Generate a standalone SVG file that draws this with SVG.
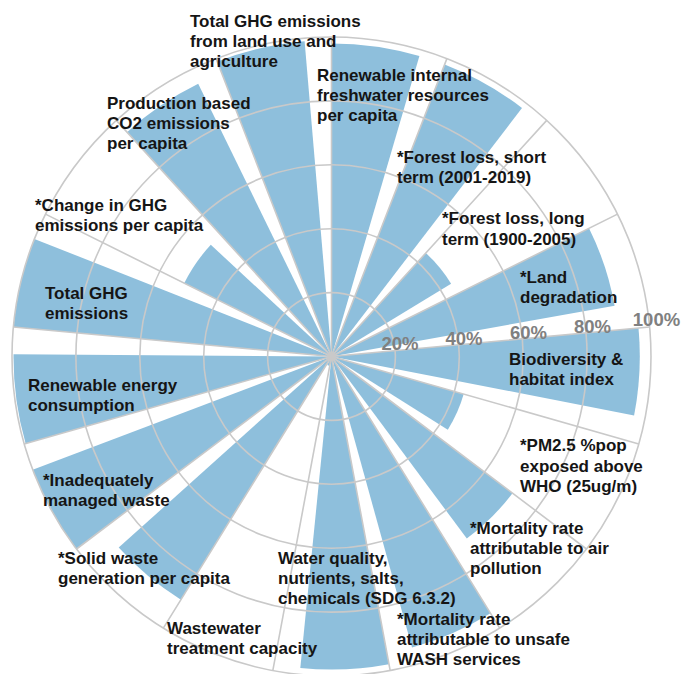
<svg xmlns="http://www.w3.org/2000/svg" width="681" height="674" viewBox="0 0 681 674">
<style>
.bar{fill:#8ebfdc;stroke:none}
.grid{fill:none;stroke:#c9c9c9;stroke-width:1.6}
.lbl{font-family:"Liberation Sans",Arial,sans-serif;font-weight:bold;font-size:17px;fill:#151515}
.pct{font-family:"Liberation Sans",Arial,sans-serif;font-weight:bold;font-size:18.5px;fill:#808080;text-anchor:middle}
</style>
<rect width="681" height="674" fill="#ffffff"/>
<g id="bars">
<path id="bar-freshwater" class="bar" d="M331.5,356.5 L331.5,43.4 A313.1,313.1 0 0 1 419.4,56.0 Z"/>
<path id="bar-forest-short" class="bar" d="M331.5,356.5 L444.6,64.5 A313.1,313.1 0 0 1 522.0,108.0 Z"/>
<path id="bar-forest-long" class="bar" d="M331.5,356.5 L425.8,253.0 A140,140 0 0 1 451.1,283.7 Z"/>
<path id="bar-land-degradation" class="bar" d="M331.5,356.5 L589.0,228.3 A287.6,287.6 0 0 1 614.6,305.7 Z"/>
<path id="bar-biodiversity" class="bar" d="M331.5,356.5 L638.5,328.0 A308.3,308.3 0 0 1 634.1,415.4 Z"/>
<path id="bar-pm25" class="bar" d="M331.5,356.5 L463.7,394.1 A137.4,137.4 0 0 1 447.8,429.7 Z"/>
<path id="bar-mortality-air" class="bar" d="M331.5,356.5 L512.5,493.2 A226.8,226.8 0 0 1 466.8,538.5 Z"/>
<path id="bar-mortality-wash" class="bar" d="M331.5,356.5 L490.5,613.3 A302,302 0 0 1 412.0,647.6 Z"/>
<path id="bar-water-quality" class="bar" d="M331.5,356.5 L389.0,664.3 A313.1,313.1 0 0 1 300.3,668.0 Z"/>
<path id="bar-wastewater" class="bar" d="M331.5,356.5 L329.7,365.9 A9.6,9.6 0 0 1 327.2,365.1 Z"/>
<path id="bar-solid-waste" class="bar" d="M331.5,356.5 L180.9,599.7 A286,286 0 0 1 118.7,547.6 Z"/>
<path id="bar-inadequate-waste" class="bar" d="M331.5,356.5 L76.5,549.0 A319.5,319.5 0 0 1 32.7,469.8 Z"/>
<path id="bar-renewable-energy" class="bar" d="M331.5,356.5 L25.6,443.5 A318,318 0 0 1 13.5,354.2 Z"/>
<path id="bar-total-ghg" class="bar" d="M331.5,356.5 L13.4,327.0 A319.5,319.5 0 0 1 34.4,238.9 Z"/>
<path id="bar-change-ghg" class="bar" d="M331.5,356.5 L184.2,283.2 A164.5,164.5 0 0 1 210.8,244.8 Z"/>
<path id="bar-production-co2" class="bar" d="M331.5,356.5 L127.0,132.2 A303.5,303.5 0 0 1 198.2,83.8 Z"/>
<path id="bar-ghg-land-use" class="bar" d="M331.5,356.5 L217.3,61.5 A316.3,316.3 0 0 1 304.6,41.3 Z"/>
</g>
<g id="grid">
<circle class="grid" cx="331.5" cy="356.5" r="63.9"/>
<circle class="grid" cx="331.5" cy="356.5" r="127.8"/>
<circle class="grid" cx="331.5" cy="356.5" r="191.7"/>
<circle class="grid" cx="331.5" cy="356.5" r="255.6"/>
<circle class="grid" cx="331.5" cy="356.5" r="319.5"/>
<path class="grid" d="M331.5,356.5 L331.5,37.0 M331.5,356.5 L446.9,58.6 M331.5,356.5 L546.7,120.4 M331.5,356.5 L617.5,214.1 M331.5,356.5 L649.6,327.0 M331.5,356.5 L638.8,443.9 M331.5,356.5 L586.5,549.0 M331.5,356.5 L499.7,628.1 M331.5,356.5 L390.2,670.6 M331.5,356.5 L272.8,670.6 M331.5,356.5 L163.3,628.1 M331.5,356.5 L76.5,549.0 M331.5,356.5 L24.2,443.9 M331.5,356.5 L13.4,327.0 M331.5,356.5 L45.5,214.1 M331.5,356.5 L116.3,120.4 M331.5,356.5 L216.1,58.6"/>
<circle cx="331.5" cy="356.5" r="4" fill="#c9c9c9"/>
</g>
<g id="axis-labels">
<text class="pct" x="400" y="350">20%</text>
<text class="pct" x="464" y="345">40%</text>
<text class="pct" x="528.5" y="338.5">60%</text>
<text class="pct" x="592.5" y="332.5">80%</text>
<text class="pct" x="656.5" y="326">100%</text>
</g>
<g id="labels">
<text id="lbl-ghg-land-use" class="lbl" x="190" y="27"><tspan x="190">Total GHG emissions</tspan><tspan x="190" dy="20">from land use and</tspan><tspan x="190" dy="20">agriculture</tspan></text>
<text id="lbl-freshwater" class="lbl" x="317" y="81"><tspan x="317">Renewable internal</tspan><tspan x="317" dy="20">freshwater resources</tspan><tspan x="317" dy="20">per capita</tspan></text>
<text id="lbl-forest-short" class="lbl" x="397" y="163"><tspan x="397">*Forest loss, short</tspan><tspan x="397" dy="20">term (2001-2019)</tspan></text>
<text id="lbl-forest-long" class="lbl" x="442" y="224"><tspan x="442">*Forest loss, long</tspan><tspan x="442" dy="20.5">term (1900-2005)</tspan></text>
<text id="lbl-land-degradation" class="lbl" x="520" y="283"><tspan x="520">*Land</tspan><tspan x="520" dy="19.5">degradation</tspan></text>
<text id="lbl-biodiversity" class="lbl" x="509" y="365"><tspan x="509">Biodiversity &amp;</tspan><tspan x="509" dy="20">habitat index</tspan></text>
<text id="lbl-pm25" class="lbl" x="520" y="451"><tspan x="520">*PM2.5 %pop</tspan><tspan x="520" dy="20.5">exposed above</tspan><tspan x="520" dy="20.5">WHO (25ug/m)</tspan></text>
<text id="lbl-mortality-air" class="lbl" x="470" y="534"><tspan x="470">*Mortality rate</tspan><tspan x="470" dy="20">attributable to air</tspan><tspan x="470" dy="20">pollution</tspan></text>
<text id="lbl-mortality-wash" class="lbl" x="397" y="625"><tspan x="397">*Mortality rate</tspan><tspan x="397" dy="20">attributable to unsafe</tspan><tspan x="397" dy="20">WASH services</tspan></text>
<text id="lbl-water-quality" class="lbl" x="278" y="564"><tspan x="278">Water quality,</tspan><tspan x="278" dy="20">nutrients, salts,</tspan><tspan x="278" dy="20">chemicals (SDG 6.3.2)</tspan></text>
<text id="lbl-wastewater" class="lbl" x="167" y="634"><tspan x="167">Wastewater</tspan><tspan x="167" dy="20">treatment capacity</tspan></text>
<text id="lbl-solid-waste" class="lbl" x="58" y="564"><tspan x="58">*Solid waste</tspan><tspan x="58" dy="20">generation per capita</tspan></text>
<text id="lbl-inadequate-waste" class="lbl" x="43" y="486"><tspan x="43">*Inadequately</tspan><tspan x="43" dy="19.5">managed waste</tspan></text>
<text id="lbl-renewable-energy" class="lbl" x="28" y="391"><tspan x="28">Renewable energy</tspan><tspan x="28" dy="20">consumption</tspan></text>
<text id="lbl-total-ghg" class="lbl" x="45" y="299"><tspan x="45">Total GHG</tspan><tspan x="45" dy="20">emissions</tspan></text>
<text id="lbl-change-ghg" class="lbl" x="35" y="211"><tspan x="35">*Change in GHG</tspan><tspan x="35" dy="19.5">emissions per capita</tspan></text>
<text id="lbl-production-co2" class="lbl" x="107" y="109"><tspan x="107">Production based</tspan><tspan x="107" dy="20">CO2 emissions</tspan><tspan x="107" dy="20">per capita</tspan></text>
</g>
</svg>
